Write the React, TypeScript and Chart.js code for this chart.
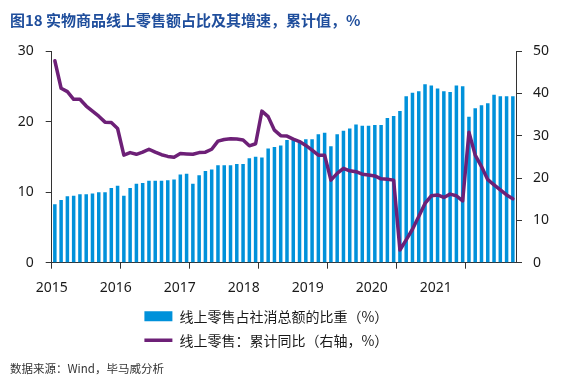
import React, { useEffect, useRef } from 'react';
import { Chart, registerables } from 'chart.js';

Chart.register(...registerables);

const TITLE = '图18 实物商品线上零售额占比及其增速，累计值，%';
const SOURCE = '数据来源：Wind，毕马威分析';
const SHARE_LABEL = '线上零售占社消总额的比重（%）';
const GROWTH_LABEL = '线上零售：累计同比（右轴，%）';

// Monthly cumulative data (Jan-Feb combined), Feb 2015 .. Sep 2021
const years = [2015, 2016, 2017, 2018, 2019, 2020, 2021];
const months = ['02', '03', '04', '05', '06', '07', '08', '09', '10', '11', '12'];
const lastYearMonths = ['02', '03', '04', '05', '06', '07', '08', '09'];

const categories: string[] = [];
years.forEach((y) => {
  const ms = y === 2021 ? lastYearMonths : months;
  ms.forEach((m) => categories.push(`${y}-${m}`));
});

const yearLabels = ['2015', '2016', '2017', '2018', '2019', '2020', '2021'];
const yearLabelSpan = 7.255;

// 线上零售占社消总额的比重（%） — left axis
const share2015 = [8.3, 8.9, 9.4, 9.5, 9.7, 9.7, 9.8, 10.0, 10.0, 10.6, 10.9];
const share2016 = [9.5, 10.6, 11.2, 11.3, 11.6, 11.6, 11.6, 11.7, 11.8, 12.5, 12.6];
const share2017 = [11.2, 12.4, 13.0, 13.2, 13.8, 13.8, 13.8, 14.0, 14.0, 14.8, 15.0];
const share2018 = [14.9, 16.2, 16.4, 16.6, 17.4, 17.4, 17.0, 17.5, 17.5, 18.2, 18.4];
const share2019 = [16.5, 18.2, 18.7, 19.0, 19.6, 19.4, 19.4, 19.5, 19.5, 20.5, 20.8];
const share2020 = [21.5, 23.6, 24.1, 24.3, 25.3, 25.1, 24.7, 24.3, 24.2, 25.1, 25.0];
const share2021 = [20.7, 21.9, 22.3, 22.6, 23.8, 23.6, 23.6, 23.6];

// 线上零售：累计同比（右轴，%）
const growth2015 = [47.7, 41.2, 40.4, 38.6, 38.6, 37.0, 35.8, 34.6, 33.2, 33.1, 31.7];
const growth2016 = [25.4, 26.0, 25.6, 26.1, 26.8, 26.1, 25.5, 25.1, 24.9, 25.8, 25.7];
const growth2017 = [25.6, 26.0, 26.1, 26.8, 28.7, 29.1, 29.3, 29.2, 29.0, 27.6, 28.1];
const growth2018 = [35.8, 34.5, 31.3, 30.0, 29.9, 29.2, 28.6, 27.7, 26.6, 25.4, 25.4];
const growth2019 = [19.5, 21.1, 22.3, 21.7, 21.5, 20.9, 20.7, 20.5, 19.8, 19.7, 19.5];
const growth2020 = [3.0, 5.4, 7.9, 10.9, 14.0, 15.8, 16.0, 15.4, 16.2, 15.8, 14.6];
const growth2021 = [30.8, 25.4, 22.7, 19.6, 18.4, 17.2, 16.0, 15.1];

const shareValues = [...share2015, ...share2016, ...share2017, ...share2018, ...share2019, ...share2020, ...share2021];
const growthValues = [...growth2015, ...growth2016, ...growth2017, ...growth2018, ...growth2019, ...growth2020, ...growth2021];

const leftMax = 30;
const rightMax = 50;
const tickStep = 10;

const LEGEND_PAD = '\u3000\u3000\u3000';

export default function App() {
  const ref = useRef<HTMLCanvasElement>(null);

  useEffect(() => {
    document.body.style.margin = '0';
    const canvas = ref.current;
    if (!canvas) return;
    const barColor = '#0091da';
    const lineColor = '#6d2077';
    const axisColor = '#333333';
    const textColor = '#1a1a1a';
    const titleColor = '#1f4e9c';
    const latin = "'Noto Sans', 'Open Sans', sans-serif";
    const cjk = "'Noto Sans CJK SC', 'Noto Sans', sans-serif";

    const chart = new Chart(canvas, {
      data: {
        labels: categories,
        datasets: [
          {
            type: 'line',
            label: GROWTH_LABEL,
            data: growthValues,
            yAxisID: 'y1',
            xAxisID: 'x',
            borderColor: lineColor,
            backgroundColor: lineColor,
            borderWidth: 3.5,
            pointRadius: 0,
            tension: 0,
            borderJoinStyle: 'round',
            borderCapStyle: 'round',
          } as any,
          {
            type: 'bar',
            label: SHARE_LABEL,
            data: shareValues,
            yAxisID: 'y',
            xAxisID: 'x',
            backgroundColor: barColor,
            borderWidth: 0,
            categoryPercentage: 1,
            barPercentage: 0.56,
          } as any,
        ],
      },
      options: {
        responsive: false,
        animation: false,
        devicePixelRatio: 1,
        layout: { padding: { left: 10, right: 0, top: 0, bottom: 0 } },
        scales: {
          x: {
            type: 'category',
            position: 'bottom',
            offset: true,
            grid: {
              offset: true,
              drawOnChartArea: false,
              drawTicks: true,
              tickLength: 6,
              lineWidth: 1,
              color: (c: any) =>
                typeof c.index === 'number' && c.index % months.length === 0 ? axisColor : 'rgba(0,0,0,0)',
            },
            border: { display: true, color: axisColor, width: 1 },
            ticks: { display: false },
          },
          xl: {
            type: 'linear',
            position: 'bottom',
            weight: 1,
            min: 2015,
            max: 2015 + yearLabelSpan,
            grid: { display: false, drawTicks: false },
            border: { display: false },
            ticks: {
              stepSize: 1,
              includeBounds: false,
              autoSkip: false,
              maxRotation: 0,
              padding: 11,
              color: textColor,
              font: { family: latin, size: 14 },
              callback: (v: any) => (yearLabels.includes(String(v)) ? String(v) : ''),
            },
            afterFit: (s: any) => {
              s.height = 30.5;
            },
          } as any,
          y: {
            position: 'left',
            min: 0,
            max: leftMax,
            grid: { drawOnChartArea: false, tickLength: 6, color: axisColor },
            border: { display: true, color: axisColor, width: 1 },
            ticks: {
              stepSize: tickStep,
              padding: 12,
              color: textColor,
              font: { family: latin, size: 14 },
            },
            afterFit: (s: any) => {
              s.width = 41.7;
            },
          },
          y1: {
            position: 'right',
            min: 0,
            max: rightMax,
            grid: { drawOnChartArea: false, tickLength: 6, color: axisColor },
            border: { display: true, color: axisColor, width: 1 },
            ticks: {
              stepSize: tickStep,
              padding: 11,
              color: textColor,
              font: { family: latin, size: 14 },
            },
            afterFit: (s: any) => {
              s.width = 46;
            },
          },
        },
        plugins: {
          title: {
            display: true,
            text: TITLE,
            align: 'start',
            color: titleColor,
            font: { family: cjk, size: 15, weight: 'bold' },
            padding: { top: 11, bottom: 22 },
          },
          subtitle: {
            display: true,
            text: SOURCE,
            position: 'bottom',
            align: 'start',
            color: '#333333',
            font: { family: cjk, size: 11.5 },
            padding: { top: 5, bottom: 3 },
          },
          legend: {
            display: true,
            position: 'bottom',
            fullSize: false,
            align: 'center',
            labels: {
              usePointStyle: true,
              pointStyleWidth: 28,
              boxHeight: 10,
              padding: 10,
              color: textColor,
              font: { family: cjk, size: 14 },
              sort: (a: any, b: any) => b.datasetIndex - a.datasetIndex,
              generateLabels: (ch: any) =>
                (Chart.defaults.plugins.legend.labels.generateLabels as any)(ch).map((item: any) => ({
                  ...item,
                  text: item.text + LEGEND_PAD,
                  pointStyle: item.datasetIndex === 1 ? 'rect' : 'line',
                })),
            },
          },
          tooltip: { enabled: false },
        },
      } as any,
    });

    return () => chart.destroy();
  }, []);

  return (
    <div style={{ width: 562, height: 379 }}>
      <canvas ref={ref} width={562} height={379} style={{ display: 'block' }} />
    </div>
  );
}
